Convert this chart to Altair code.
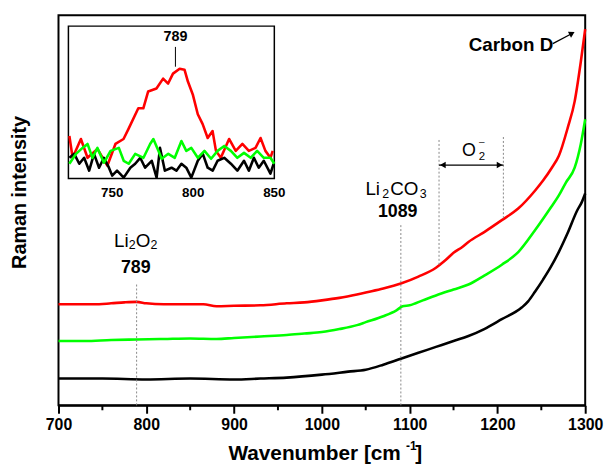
import altair as alt
import pandas as pd

# ---------------- main spectra (wavenumber, intensity a.u.) ----------------
red_w = [700, 720, 740, 760, 775, 789, 800, 820, 850, 865, 880, 900, 930, 960, 980,
         1000, 1020, 1040, 1050, 1070, 1090, 1110, 1130, 1140, 1150, 1160, 1167, 1185,
         1205, 1224, 1243, 1252, 1262, 1270, 1280, 1288, 1295, 1300]
red_v = [102, 102, 102, 103, 104, 104.5, 103, 102, 102, 102, 100, 100.5, 101, 103, 104,
         106, 108.5, 112, 114, 118, 123, 130, 139, 146, 154, 160, 165, 175,
         187, 199, 217, 227, 240, 252, 280, 307, 347, 380]

green_w = [700, 730, 760, 789, 820, 850, 880, 900, 930, 960, 980, 1000, 1020, 1040, 1050,
           1070, 1085, 1092, 1100, 1115, 1130, 1150, 1167, 1185, 1205, 1224, 1243, 1261,
           1270, 1278, 1288, 1295, 1300]
green_v = [65, 65, 66, 66.5, 67, 67.5, 67, 68, 69.5, 71, 72.5, 74, 77, 81, 84,
           90, 96, 100, 101, 106, 111, 117, 122, 131, 142, 155, 177, 200,
           212, 225, 240, 264, 289]

black_w = [700, 750, 800, 850, 900, 930, 960, 1000, 1030, 1050, 1070, 1090, 1110, 1130,
           1150, 1167, 1185, 1205, 1228, 1235, 1243, 1252, 1261, 1270, 1280, 1291, 1296, 1300]
black_v = [27, 27, 26, 27, 26, 27, 28, 31, 34, 36, 41, 47, 53, 59,
           65, 70, 77, 87, 99, 105, 115, 127, 140, 155, 174, 197, 205, 214]

# ---------------- inset spectra (wavenumber, intensity a.u.) ----------------
ired_w = [723.6, 725.6, 730.7, 734.8, 740.9, 747, 752, 757, 760, 766.1, 769.2, 772.2,
          777.3, 781.4, 784.5, 787.5, 791.6, 794.6, 796.7, 799.7, 802.8, 805.8, 808.9,
          811.9, 814, 817, 822.1, 826.2, 830.3, 834.3, 838.4, 841.5, 844.5, 847.6, 849]
ired_v = [43, 21, 40, 21, 30, 13, 35, 40, 50, 71, 71, 88, 91, 101, 96, 106, 111, 110,
          98, 85, 65, 55, 41, 48, 28, 21, 40, 28, 35, 28, 31, 41, 28, 21, 28]

igreen_w = [723.6, 727.7, 731.7, 734.8, 737.8, 740.9, 744.9, 749, 754.1, 757.1, 760.2,
            764.2, 769.3, 773.4, 775.4, 778.5, 780.5, 784.6, 788.6, 792.7, 795.7, 798.8,
            802.8, 806.9, 811, 815, 819.1, 823.2, 827.2, 831.3, 835.4, 839.4, 843.5, 847.6, 850]
igreen_v = [15, 25, 31, 35, 21, 31, 16, 28, 31, 18, 15, 25, 21, 35, 40, 28, 20, 25, 21,
            38, 28, 31, 21, 28, 20, 28, 33, 28, 21, 26, 21, 28, 21, 21, 15]

iblack_w = [723.6, 726.6, 729.7, 732.7, 735.8, 738.8, 741.9, 744.9, 748, 750, 753, 757.1,
            761.2, 764.2, 767.3, 770.3, 774.4, 777.4, 779.5, 782.5, 786.6, 789.6, 792.7,
            795.7, 798.8, 802.8, 805.9, 808.9, 812, 815, 819.1, 823.2, 827.2, 831.3, 834.3,
            837.4, 840.4, 843.5, 847.6, 849.6]
iblack_v = [21, 25, 15, 21, 8, 25, 11, 21, 11, 3, 8, 1, 11, 15, 21, 11, 18, 1, 31, 8,
            11, 8, 15, 11, 1, 18, 25, 11, 8, 18, 21, 15, 8, 18, 8, 21, 11, 18, 5, 15]

series_names = ["black", "green", "red"]
series_colors = ["#000000", "#00ff00", "#ff0000"]

x_ticks = [700, 800, 900, 1000, 1100, 1200, 1300]
x_minor = [750, 850, 950, 1050, 1150, 1250]
inset_ticks = [750, 800, 850]

FONT = "Liberation Sans"
XS = alt.Scale(domain=[700, 1300], nice=False, zero=False)
YS = alt.Scale(domain=[0, 394], nice=False, zero=False)
XA = alt.Axis(values=x_ticks, format="d", title=None, grid=False)

# inset placement inside the main axes (main-axis units)
IN_W0, IN_X0, IN_K, IN_V0 = 723, 711.3, 1.847, 229
IN_WMAX, IN_VMAX = 850, 154


def X(f="w"):
    return alt.X(f"{f}:Q", scale=XS, axis=XA, title=None)


def Y(f="v"):
    return alt.Y(f"{f}:Q", scale=YS, axis=None, title=None)


def inset_tf(ch):
    return ch.transform_calculate(
        w=f"{IN_X0} + (datum.wi - {IN_W0}) * {IN_K}",
        v=f"{IN_V0} + datum.iv")


main_df = pd.concat([
    pd.DataFrame({"w": black_w, "v": black_v, "s": "black"}),
    pd.DataFrame({"w": green_w, "v": green_v, "s": "green"}),
    pd.DataFrame({"w": red_w, "v": red_v, "s": "red"}),
])

main_lines = alt.Chart(main_df).mark_line(strokeJoin="round", interpolate="monotone").encode(
    x=X(), y=Y(),
    color=alt.Color("s:N", scale=alt.Scale(domain=series_names, range=series_colors), legend=None),
    strokeWidth=alt.StrokeWidth("s:N", scale=alt.Scale(domain=series_names, range=[2.6, 2.6, 3.6]), legend=None),
    detail="s:N",
)

minor = alt.Chart(pd.DataFrame({"w": x_minor})).mark_rule(color="black", strokeWidth=2).encode(
    x=X(), y=alt.value(394), y2=alt.value(399))

# dashed guide lines
guides = pd.DataFrame({"w": [789, 1090, 1133.5, 1206.8],
                       "v1": [0, 0, 142, 189], "v2": [122, 182, 269, 271]})
guide_layer = alt.Chart(guides).mark_rule(color="#888888", strokeWidth=1, strokeDash=[2, 2]).encode(
    x=X(), y=Y("v1"), y2="v2:Q")

# arrows
arrow_lines = pd.DataFrame({"w": [1133.5, 1263.1], "w2": [1206.8, 1285],
                            "v": [242.7, 365.3], "v2": [242.7, 375.6]})
arrow_layer = alt.Chart(arrow_lines).mark_rule(color="black", strokeWidth=1.3).encode(
    x=X(), x2="w2:Q", y=Y(), y2="v2:Q")
heads = pd.DataFrame({"w": [1137.8, 1202.5, 1285], "v": [242.7, 242.7, 375.6],
                      "shape": ["triangle-left", "triangle-right", "triangle-up"],
                      "ang": [0, 0, 62]})
head_layer = alt.Chart(heads).mark_point(filled=True, color="black", opacity=1, size=45).encode(
    x=X(), y=Y(), shape=alt.Shape("shape:N", scale=None), angle=alt.Angle("ang:Q", scale=None))

# chemical labels (regular) - pieces with subscripts
reg = pd.DataFrame({
    "t": ["Li", "2", "O", "2", "Li", "2", "CO", "3", "O", "2", "–"],
    "w": [763.2, 780.1, 788.0, 804.9, 1049.6, 1068.8, 1077.8, 1111.6, 1159.6, 1178.7, 1178.9],
    "v": [160, 157.5, 160, 157.5, 212, 209, 212, 209, 252, 248, 263],
    "sz": [19, 12.5, 19, 12.5, 19, 12.5, 19, 12.5, 18, 11.5, 10]})
reg_layer = alt.Chart(reg).mark_text(font=FONT, align="left", baseline="alphabetic", color="black").encode(
    x=X(), y=Y(), text="t:N", size=alt.Size("sz:Q", scale=None))

bold = pd.DataFrame({"t": ["789", "1089", "Carbon D"],
                     "w": [788, 1086.4, 1215.4], "v": [134, 190.3, 357.7], "sz": [18, 18, 19]})
bold_layer = alt.Chart(bold).mark_text(font=FONT, fontWeight="bold", align="center",
                                       baseline="alphabetic", color="black").encode(
    x=X(), y=Y(), text="t:N", size=alt.Size("sz:Q", scale=None))

# axis titles drawn as text (superscript)
xt_main = alt.Chart(pd.DataFrame({"t": ["Wavenumber [cm"], "w": [1090], "v": [-55]})).mark_text(
    font=FONT, fontWeight="bold", fontSize=21, align="right", baseline="alphabetic", color="black").encode(
    x=X(), y=Y(), text="t:N")
xt_side = alt.Chart(pd.DataFrame({"t": ["-1", "]"], "w": [1096, 1106.5], "v": [-45.5, -55], "sz": [12, 21]})).mark_text(
    font=FONT, fontWeight="bold", align="left", baseline="alphabetic", color="black").encode(
    x=X(), y=Y(), text="t:N", size=alt.Size("sz:Q", scale=None))
yt = alt.Chart(pd.DataFrame({"t": ["Raman intensity"], "w": [656], "v": [215]})).mark_text(
    font=FONT, fontWeight="bold", fontSize=20, angle=270, align="center", baseline="middle", color="black").encode(
    x=X(), y=Y(), text="t:N")

# ---------------- inset ----------------
inset_frame = inset_tf(alt.Chart(pd.DataFrame({"wi": [IN_W0], "wi2": [IN_WMAX], "iv": [0], "iv2": [IN_VMAX]}))
                       ).transform_calculate(
    w2=f"{IN_X0} + (datum.wi2 - {IN_W0}) * {IN_K}", v2=f"{IN_V0} + datum.iv2"
).mark_rect(fill="white", stroke="black", strokeWidth=1.5).encode(
    x=X(), x2="w2:Q", y=Y(), y2="v2:Q")

inset_df = pd.concat([
    pd.DataFrame({"wi": ired_w, "iv": ired_v, "s": "red"}),
    pd.DataFrame({"wi": iblack_w, "iv": iblack_v, "s": "black"}),
    pd.DataFrame({"wi": igreen_w, "iv": igreen_v, "s": "green"}),
])
inset_lines = inset_tf(alt.Chart(inset_df)).mark_line(strokeJoin="round").encode(
    x=X(), y=Y(),
    color=alt.Color("s:N", scale=alt.Scale(domain=series_names, range=series_colors), legend=None),
    strokeWidth=alt.StrokeWidth("s:N", scale=alt.Scale(domain=series_names, range=[2.6, 3.0, 3.4]), legend=None),
    detail="s:N",
)
inset_labels = inset_tf(alt.Chart(pd.DataFrame({"wi": inset_ticks, "iv": [-18.7] * 3,
                                                "t": [str(t) for t in inset_ticks]}))).mark_text(
    font=FONT, fontWeight="bold", fontSize=13.5, align="center", baseline="alphabetic", color="black").encode(
    x=X(), y=Y(), text="t:N")
inset_peak = inset_tf(alt.Chart(pd.DataFrame({"wi": [789], "iv": [138.7], "t": ["789"]}))).mark_text(
    font=FONT, fontWeight="bold", fontSize=14.5, align="center", baseline="alphabetic", color="black").encode(
    x=X(), y=Y(), text="t:N")
inset_peak_line = inset_tf(alt.Chart(pd.DataFrame({"wi": [789], "iv": [113], "iv2": [133]}))).transform_calculate(
    v2=f"{IN_V0} + datum.iv2").mark_rule(color="black", strokeWidth=1).encode(
    x=X(), y=Y(), y2="v2:Q")

chart = alt.layer(
    main_lines, guide_layer, minor, arrow_layer, head_layer, reg_layer, bold_layer,
    xt_main, xt_side, yt,
    inset_frame, inset_lines, inset_labels, inset_peak, inset_peak_line,
).properties(
    width=532, height=394,
    autosize=alt.AutoSizeParams(type="none"),
    padding={"left": 51, "top": 5, "right": 20, "bottom": 60},
).configure_view(stroke="black", strokeWidth=2).configure_axisX(
    labelFont=FONT, labelFontSize=16, labelFontWeight="bold", labelColor="black",
    labelFlush=False, tickSize=8, tickWidth=2, tickColor="black",
    domainColor="black", domainWidth=2, labelPadding=3, grid=False,
)

chart.save("out.html", embed_options={"renderer": "svg", "actions": False})
